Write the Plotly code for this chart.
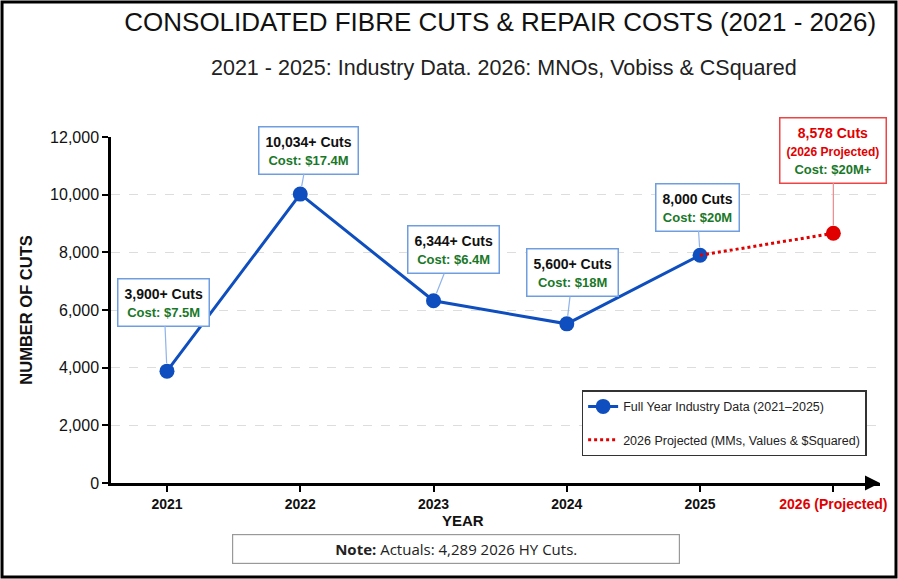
import plotly.graph_objects as go

# dados
anos = [2021, 2022, 2023, 2024, 2025, 2026]
rotulos_anos = ['2021', '2022', '2023', '2024', '2025', "<span style='color:#e00000'>2026 (Projected)</span>"]
cortes_reais = [3880, 10020, 6320, 5520, 7900]
corte_projetado = 8660
textos_cortes = ['3,900+ Cuts', '10,034+ Cuts', '6,344+ Cuts', '5,600+ Cuts', '8,000 Cuts']
textos_custos = ['Cost: $7.5M', 'Cost: $17.4M', 'Cost: $6.4M', 'Cost: $18M', 'Cost: $20M']
texto_proj = ['8,578 Cuts', '(2026 Projected)', 'Cost: $20M+']

azul = 'rgb(14,78,190)'
vermelho = 'rgb(225,0,0)'
verde = 'rgb(25,120,40)'

fig = go.Figure()

# linha azul com os anos completos
fig.add_trace(go.Scatter(
    x=anos[:5], y=cortes_reais, mode='lines+markers',
    name='Full Year Industry Data (2021–2025)', legendgroup='a',
    line=dict(color=azul, width=3),
    marker=dict(color=azul, size=15),
    cliponaxis=False))

# linha pontilhada vermelha da projeção
fig.add_trace(go.Scatter(
    x=anos[4:], y=[cortes_reais[-1], corte_projetado], mode='lines',
    name='2026 Projected (MMs, Values & $Squared)', legendgroup='b',
    line=dict(color=vermelho, width=3, dash='dot'),
    cliponaxis=False))
fig.add_trace(go.Scatter(
    x=[anos[5]], y=[corte_projetado], mode='markers', showlegend=False, legendgroup='b',
    marker=dict(color=vermelho, size=15), cliponaxis=False))

# caixas de anotação (deslocamento em pixels)
desloc = [(-3, -69), (8, -44), (20, -51), (6, -51), (-3, -48)]
for i in range(5):
    fig.add_annotation(
        x=anos[i], y=cortes_reais[i], ax=desloc[i][0], ay=desloc[i][1],
        text="<b>" + textos_cortes[i] + "</b><br><span style='font-size:13px;color:" + verde + "'><b>" + textos_custos[i] + "</b></span>",
        font=dict(size=14, color='#111', family='Liberation Sans, Arial'),
        bgcolor='white', bordercolor='#6f9ee0', borderwidth=1.5, borderpad=6,
        showarrow=True, arrowhead=0, arrowwidth=1.2, arrowcolor='#8fb3ea', standoff=8)

fig.add_annotation(
    x=anos[5], y=corte_projetado, ax=0, ay=-83,
    text="<b>" + texto_proj[0] + "</b><br><span style='font-size:12px'><b>" + texto_proj[1] + "</b></span><br><span style='font-size:13px;color:" + verde + "'><b>" + texto_proj[2] + "</b></span>",
    font=dict(size=14, color=vermelho, family='Liberation Sans, Arial'),
    bgcolor='white', bordercolor='#ee4444', borderwidth=1.5, borderpad=6,
    showarrow=True, arrowhead=0, arrowwidth=1.2, arrowcolor='#f08a8a', standoff=8)

# subtítulo
fig.add_annotation(
    xref='paper', yref='paper', x=0.511, y=1.199, xanchor='center', yanchor='middle', showarrow=False,
    text='2021 - 2025: Industry Data. 2026: MNOs, Vobiss & CSquared',
    font=dict(size=21.5, color='#222', family='Liberation Sans, Arial'))

# título do eixo x
fig.add_annotation(
    xref='paper', yref='paper', x=0.458, y=-0.107, xanchor='center', yanchor='middle', showarrow=False,
    text='<b>YEAR</b>', font=dict(size=15, color='#111', family='Liberation Sans, Arial'))

# nota embaixo
fig.add_annotation(
    xref='paper', yref='paper', x=0.448, y=-0.19, xanchor='center', yanchor='middle', showarrow=False,
    text='<b>Note:</b> Actuals: 4,289 2026 HY Cuts.',
    font=dict(size=15, color='#222', family='Open Sans, Arial'),
    width=440, height=22, bgcolor='white', bordercolor='#999', borderwidth=1.2, borderpad=3)

# seta no fim do eixo x
fig.add_annotation(
    xref='paper', yref='paper', x=1.0, y=0, ax=-14, ay=0, text='',
    showarrow=True, arrowhead=2, arrowsize=1.2, arrowwidth=2.5, arrowcolor='black')

fig.update_layout(
    width=898, height=579,
    margin=dict(l=111, r=18, t=137, b=96),
    paper_bgcolor='white', plot_bgcolor='white',
    font=dict(family='Liberation Sans, Arial', color='#111'),
    title=dict(text='CONSOLIDATED FIBRE CUTS & REPAIR COSTS (2021 - 2026)',
               x=0.557, xanchor='center', y=0.962, yanchor='middle',
               font=dict(size=26, color='#111', family='Liberation Sans, Arial')),
    xaxis=dict(tickvals=anos, ticktext=['<b>' + t + '</b>' for t in rotulos_anos],
               range=[2020.58, 2026.35], showgrid=False, showline=True, linecolor='black', linewidth=2.5,
               zeroline=False, ticks='outside', ticklen=6, tickwidth=2, tickcolor='black',
               tickfont=dict(size=14, color='#111')),
    yaxis=dict(range=[0, 12000], dtick=2000, tickformat=',', showgrid=True,
               gridcolor='#dddddd', griddash='dash', gridwidth=1,
               showline=True, linecolor='black', linewidth=2.5, zeroline=False,
               ticks='outside', ticklen=6, tickwidth=2, tickcolor='black',
               tickfont=dict(size=16, color='#111'),
               title=dict(text='<b>NUMBER OF CUTS</b>', font=dict(size=16.5, color='#111'), standoff=14)),
    legend=dict(x=0.612, y=0.268, xanchor='left', yanchor='top', traceorder='grouped',
                bgcolor='white', bordercolor='#333', borderwidth=1.5,
                font=dict(size=12.5, color='#222'), tracegroupgap=14),
    shapes=[dict(type='rect', xref='paper', yref='paper', x0=-0.1417, x1=1.0208, y0=-0.2717, y1=1.39,
                 line=dict(color='black', width=3), layer='below')])

fig.write_html("out.html", config={'displayModeBar': False},
               post_script="document.body.style.margin='0';")
